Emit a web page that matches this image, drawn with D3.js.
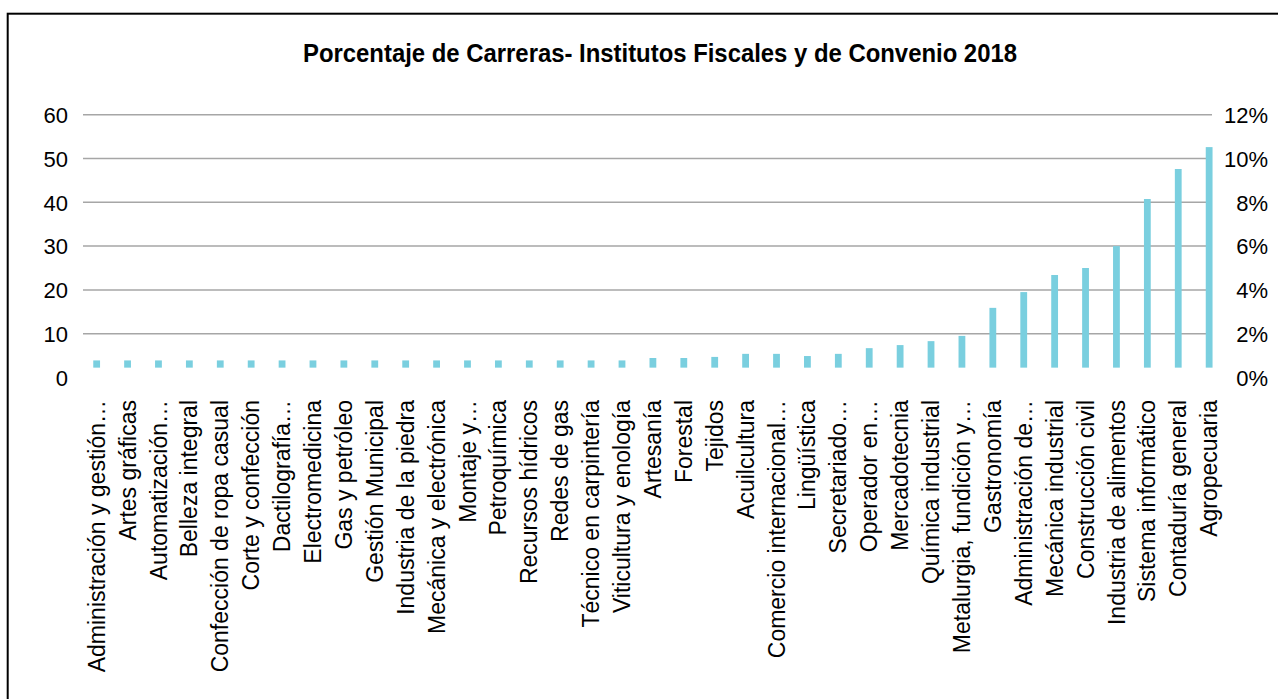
<!DOCTYPE html>
<html>
<head>
<meta charset="utf-8">
<script src="https://cdn.jsdelivr.net/npm/d3@7"></script>
<style>
  body { margin: 0; background: #fff; }
  text { font-family: "Liberation Sans", Arial, sans-serif; fill: #000; }
  .titulo { font-family: "Liberation Sans", Arial, sans-serif; font-weight: bold; }
</style>
</head>
<body>
<div id="grafico"></div>
<script>
// 1. Datos
const carreras = [
    "Administración y gestión…", "Artes gráficas", "Automatización…", "Belleza integral",
    "Confección de ropa casual", "Corte y confección", "Dactilografía…", "Electromedicina",
    "Gas y petróleo", "Gestión Municipal", "Industria de la piedra", "Mecánica y electrónica",
    "Montaje y…", "Petroquímica", "Recursos hídricos", "Redes de gas",
    "Técnico en carpintería", "Viticultura y enología", "Artesanía", "Forestal",
    "Tejidos", "Acuilcultura", "Comercio internacional…", "Lingüística",
    "Secretariado…", "Operador en…", "Mercadotecnia", "Química industrial",
    "Metalurgia, fundición y…", "Gastronomía", "Administración de…", "Mecánica industrial",
    "Construcción civil", "Industria de alimentos", "Sistema informático", "Contaduría general",
    "Agropecuaria"
];
const valores = [
    3.9, 3.9, 3.9, 3.9, 3.9, 3.9, 3.9, 3.9, 3.9, 3.9, 3.9, 3.9, 3.9, 3.9, 3.9, 3.9, 3.9, 3.9,
    4.45, 4.45, 4.7, 5.4, 5.4, 4.9, 5.4, 6.7, 7.4, 8.3, 9.5,
    15.9, 19.5, 23.4, 25.0, 30.0, 40.75, 47.6, 52.6
];
const ticksIzq = [0, 10, 20, 30, 40, 50, 60];
const ticksDer = [0, 0.02, 0.04, 0.06, 0.08, 0.10, 0.12];
const baseBarras = 2.25; // las barras arrancan un poco sobre el cero
const titulo = "Porcentaje de Carreras- Institutos Fiscales y de Convenio 2018";

const data = carreras.map((c, i) => ({ carrera: c, valor: valores[i] }));

// 2. Dimensiones
const dim = { width: 1278, height: 699 };
const area = { left: 81.2, right: 1224.6, top: 114.7, bottom: 377.5, gridLeft: 83, gridRight: 1212 };

// 3. Lienzo
const svg = d3.select("#grafico")
    .append("svg")
        .attr("width", dim.width)
        .attr("height", dim.height);

// marco negro
svg.append("rect")
    .attr("x", 7.7)
    .attr("y", 13.7)
    .attr("width", dim.width + 20)
    .attr("height", dim.height + 20)
    .attr("fill", "none")
    .attr("stroke", "#000")
    .attr("stroke-width", 2);

// 4. Escalas
const x = d3.scaleBand()
    .domain(carreras)
    .range([area.left, area.right])
    .paddingInner(0.78)
    .paddingOuter(0.39);

const y = d3.scaleLinear()
    .domain([0, 60])
    .range([area.bottom, area.top]);

const yDer = d3.scaleLinear()
    .domain([0, 0.12])
    .range([area.bottom, area.top]);

// 5. Título (letra estrecha: se comprime al ancho del original)
svg.append("text")
    .attr("class", "titulo")
    .attr("x", 303)
    .attr("y", 62)
    .attr("textLength", 714)
    .attr("lengthAdjust", "spacingAndGlyphs")
    .style("font-size", "25.5px")
    .text(titulo);

// líneas de cuadrícula (sin línea en el cero)
svg.append("g")
    .selectAll("line")
    .data(ticksIzq.filter(d => d > 0))
    .join("line")
        .attr("x1", area.gridLeft)
        .attr("x2", area.gridRight)
        .attr("y1", d => y(d))
        .attr("y2", d => y(d))
        .attr("stroke", "#a6a6a6")
        .attr("stroke-width", 1.5);

// eje izquierdo
const ejeIzq = svg.append("g")
    .attr("transform", `translate(${area.gridLeft - 15},0)`)
    .call(d3.axisLeft(y).tickValues(ticksIzq).tickSize(0).tickPadding(0));
ejeIzq.select(".domain").remove();
ejeIzq.selectAll("text")
    .style("font-size", "22px")
    .style("font-family", "'Liberation Sans', Arial, sans-serif")
    .attr("dy", "0.35em");

// eje derecho
const ejeDer = svg.append("g")
    .attr("transform", `translate(1268,0)`)
    .call(d3.axisLeft(yDer).tickValues(ticksDer).tickFormat(d3.format(".0%")).tickSize(0).tickPadding(0));
ejeDer.select(".domain").remove();
ejeDer.selectAll("text")
    .style("font-size", "22px")
    .style("font-family", "'Liberation Sans', Arial, sans-serif")
    .attr("dy", "0.35em");

// 6. Barras
svg.append("g")
    .selectAll("rect")
    .data(data)
    .join("rect")
        .attr("x", d => x(d.carrera))
        .attr("width", x.bandwidth())
        .attr("y", d => y(d.valor))
        .attr("height", d => y(baseBarras) - y(d.valor))
        .attr("fill", "#7acfdf");

// etiquetas de categoría, giradas
svg.append("g")
    .selectAll("text")
    .data(data)
    .join("text")
        .attr("transform", d => `translate(${x(d.carrera) + x.bandwidth() / 2},400) rotate(-90)`)
        .attr("text-anchor", "end")
        .attr("dy", "0.35em")
        .style("font-size", "23px")
        .text(d => d.carrera);
</script>
</body>
</html>
